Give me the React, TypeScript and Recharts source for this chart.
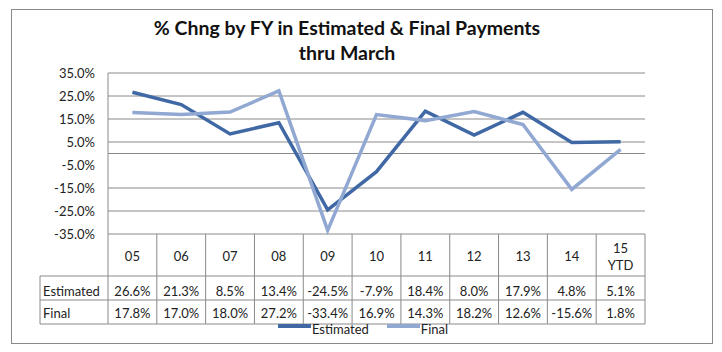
import React from 'react';
import { LineChart, Line, XAxis, YAxis, CartesianGrid, ReferenceLine, Legend } from 'recharts';

const years = ['05', '06', '07', '08', '09', '10', '11', '12', '13', '14', '15 YTD'];
const estimated = [26.6, 21.3, 8.5, 13.4, -24.5, -7.9, 18.4, 8.0, 17.9, 4.8, 5.1];
const final = [17.8, 17.0, 18.0, 27.2, -33.4, 16.9, 14.3, 18.2, 12.6, -15.6, 1.8];
const yTicks = [-35, -25, -15, -5, 5, 15, 25, 35];

const data = years.map((fy, i) => ({ fy, estimated: estimated[i], final: final[i] }));

const W = 722;
const H = 352;
const margin = { top: 73, right: 77, bottom: 28, left: 0 };
const yAxisW = 108;
const plotW = W - yAxisW - margin.right;
const half = plotW / years.length / 2;
const labelColW = 68;

const FONT = 'Lato, "Open Sans", sans-serif';
const GRID = '#8a8a8a';
const EST = '#3f68a4';
const FIN = '#90a8d2';

const fmt = (v: number) => `${v.toFixed(1)}%`;

const TableTick = (props: any) => {
  const { x, y, payload, index } = props;
  const i = index as number;
  const left = x - half;
  const right = x + half;
  const label = String(payload.value);
  const parts = label.split(' ');
  const txt = { fontFamily: FONT, fontSize: 13, fill: '#222', textAnchor: 'middle' as const };
  const last = i === years.length - 1;
  return (
    <g>
      <line x1={left} y1={y} x2={left} y2={y + 90} stroke={GRID} />
      {last && <line x1={right} y1={y} x2={right} y2={y + 90} stroke={GRID} />}
      <line x1={left} y1={y + 42} x2={right} y2={y + 42} stroke={GRID} />
      <line x1={left} y1={y + 66} x2={right} y2={y + 66} stroke={GRID} />
      <line x1={left} y1={y + 90} x2={right} y2={y + 90} stroke={GRID} />
      {parts.length > 1 ? (
        <>
          <text x={x} y={y + 19} {...txt}>{parts[0]}</text>
          <text x={x} y={y + 36} {...txt}>{parts[1]}</text>
        </>
      ) : (
        <text x={x} y={y + 27} {...txt}>{label}</text>
      )}
      <text x={x} y={y + 61.5} {...txt}>{fmt(estimated[i])}</text>
      <text x={x} y={y + 84} {...txt}>{fmt(final[i])}</text>
      {i === 0 && (
        <g>
          <line x1={left - labelColW} y1={y + 42} x2={left} y2={y + 42} stroke={GRID} />
          <line x1={left - labelColW} y1={y + 66} x2={left} y2={y + 66} stroke={GRID} />
          <line x1={left - labelColW} y1={y + 90} x2={left} y2={y + 90} stroke={GRID} />
          <line x1={left - labelColW} y1={y + 42} x2={left - labelColW} y2={y + 90} stroke={GRID} />
          <text x={left - labelColW + 3} y={y + 61.5} {...txt} textAnchor="start">Estimated</text>
          <text x={left - labelColW + 3} y={y + 84} {...txt} textAnchor="start">Final</text>
        </g>
      )}
    </g>
  );
};

const LegendContent = (props: any) => {
  const { payload } = props;
  return (
    <div style={{ display: 'flex', justifyContent: 'center', fontFamily: FONT, fontSize: 13, color: '#222' }}>
      {(payload || []).map((p: any, k: number) => (
        <div key={p.value} style={{ display: 'flex', alignItems: 'flex-start', marginRight: k === 0 ? 18 : 0 }}>
          <span
            style={{ display: 'inline-block', width: 33, height: 4, background: p.color, marginRight: 1, marginTop: 1 }}
          />
          <span style={{ lineHeight: '12px' }}>{p.value}</span>
        </div>
      ))}
    </div>
  );
};

export default function App() {
  return (
    <div style={{ position: 'absolute', left: 0, top: 0, width: W, height: H, background: '#fff' }}>
      <div
        style={{
          position: 'absolute',
          left: 11,
          top: 9,
          width: 700,
          height: 333,
          border: '1px solid #8a8a8a',
        }}
      />
      <div
        style={{
          position: 'absolute',
          left: 0,
          top: 15,
          width: 694,
          textAlign: 'center',
          fontFamily: FONT,
          fontWeight: 700,
          fontSize: 19.5,
          lineHeight: '25px',
          color: '#111',
        }}
      >
        % Chng by FY in Estimated &amp; Final Payments
        <br />
        thru March
      </div>
      <div style={{ position: 'absolute', left: 0, top: 0 }}>
        <LineChart width={W} height={H} data={data} margin={margin}>
          <CartesianGrid horizontal vertical={false} stroke={GRID} strokeOpacity={1} />
          <XAxis
            dataKey="fy"
            type="category"
            scale="point"
            padding={{ left: half, right: half }}
            height={90}
            axisLine={false}
            tickLine={false}
            tickSize={0}
            tickMargin={0}
            interval={0}
            tick={<TableTick />}
          />
          <YAxis
            type="number"
            domain={[-35, 35]}
            ticks={yTicks}
            width={yAxisW}
            axisLine={{ stroke: GRID }}
            tickLine={false}
            tickSize={0}
            tickMargin={13}
            tickFormatter={fmt}
            tick={{ fontFamily: FONT, fontSize: 13, fill: '#222' }}
          />
          <ReferenceLine y={0} stroke={GRID} />
          <Line
            type="linear"
            dataKey="estimated"
            name="Estimated"
            stroke={EST}
            strokeWidth={3.5}
            dot={false}
            isAnimationActive={false}
          />
          <Line
            type="linear"
            dataKey="final"
            name="Final"
            stroke={FIN}
            strokeWidth={3.5}
            dot={false}
            isAnimationActive={false}
          />
          <Legend
            verticalAlign="middle"
            layout="horizontal"
            align="center"
            content={<LegendContent />}
            wrapperStyle={{ top: 323, left: 2, width: W }}
          />
        </LineChart>
      </div>
    </div>
  );
}
